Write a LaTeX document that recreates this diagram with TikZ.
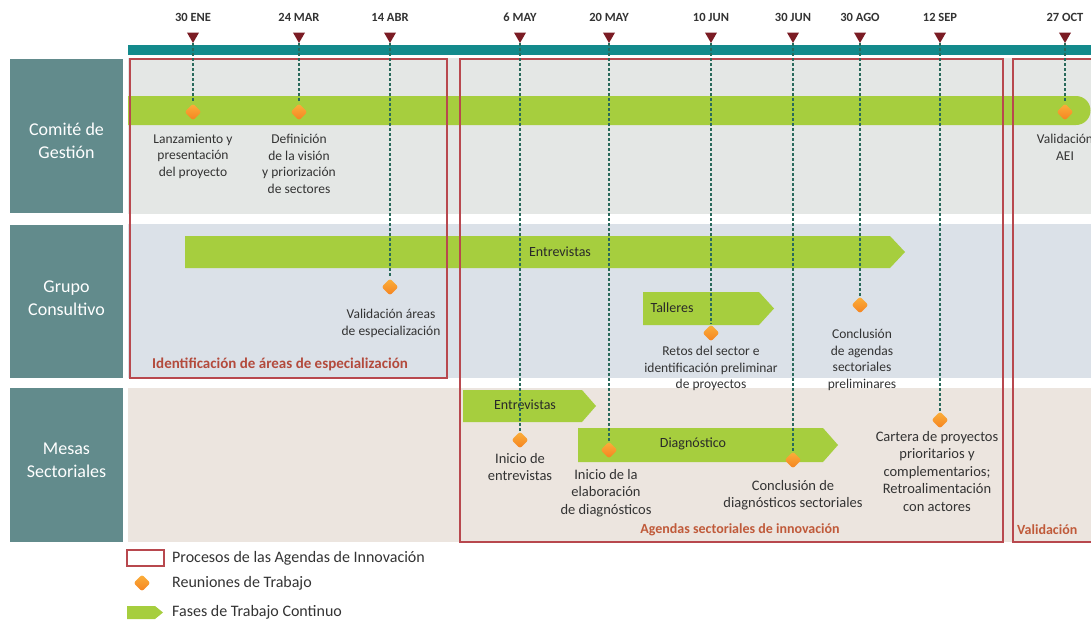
\documentclass[tikz,border=0pt]{standalone}
\usepackage{fontspec}
\setmainfont{Carlito}
\usetikzlibrary{shapes.geometric}
\definecolor{tealbar}{HTML}{138A8C}
\definecolor{markc}{HTML}{7B1C24}
\definecolor{rowc}{HTML}{628B8C}
\definecolor{bandA}{HTML}{E4E7E5}
\definecolor{bandB}{HTML}{DBE1E8}
\definecolor{bandC}{HTML}{ECE5DF}
\definecolor{procc}{HTML}{B8484E}
\definecolor{phasec}{HTML}{A6CE3E}
\definecolor{diaA}{HTML}{FBB03B}
\definecolor{diaB}{HTML}{F58220}
\definecolor{guidec}{HTML}{2A6A5C}
\definecolor{txt}{HTML}{333333}
\definecolor{proclbl}{HTML}{B34A3C}
\definecolor{proclblB}{HTML}{C05A3A}
\tikzset{
  lbl/.style={font=\fontsize{13.5}{16.5}\selectfont, text=txt, align=center, inner sep=0pt},
  lblb/.style={lbl, font=\fontsize{14.5}{17.5}\selectfont},
  datelbl/.style={font=\bfseries\fontsize{12.5}{13}\selectfont, text=txt, inner sep=0pt},
  tri/.style={regular polygon, regular polygon sides=3, shape border rotate=180, fill=markc, inner sep=0pt, minimum size=14pt},
  meet/.style={diamond, inner sep=0pt, minimum width=17pt, minimum height=17pt, rounded corners=2.5pt, top color=diaA, bottom color=diaB, draw=none},
  guide/.style={draw=guidec, dash pattern=on 3pt off 2pt, line width=1.2pt},
  rowbox/.style={fill=rowc, align=center, inner sep=0pt, minimum width=113pt},
  rowtxt/.style={text=white, align=center, inner sep=0pt, font=\fontsize{18}{23}\selectfont},
  phase/.style={fill=phasec},
  proc/.style={draw=procc, line width=1.1pt},
  phaselbl/.style={font=\fontsize{14}{15}\selectfont, text=txt!80!black, inner sep=0pt},
  proclabel/.style={font=\bfseries\fontsize{14}{15}\selectfont, inner sep=0pt},
  leglbl/.style={font=\fontsize{16}{17}\selectfont, text=txt, inner sep=0pt, anchor=west}
}
\begin{document}
\begin{tikzpicture}[x=1pt,y=-1pt]
\useasboundingbox (0,0) rectangle (1091,624);
% bands
\fill[bandA] (128,58) rectangle (1091,214);
\fill[bandB] (128,224) rectangle (1091,378);
\fill[bandC] (128,388) rectangle (1091,542);
% row label boxes
\node[rowbox, minimum height=154pt] (r1) at (66.5,136) {};
\node[rowbox, minimum height=153pt] (r2) at (66.5,301) {};
\node[rowbox, minimum height=154pt] (r3) at (66.5,465) {};
\node[rowtxt] (r1t) at (66.5,141) {Comité de\\Gestión};
\node[rowtxt] (r2t) at (66.5,298) {Grupo\\Consultivo};
\node[rowtxt] (r3t) at (66.5,460) {Mesas\\Sectoriales};
% timeline bar
\fill[tealbar] (128,45) rectangle (1091,55);
% phases
\fill[phase] (128,96) -- (1076,96) arc[start angle=-90,end angle=90,radius=14.5] -- (128,125) -- cycle;
\fill[phase] (185,236) -- (890,236) -- (905,252) -- (890,268) -- (185,268) -- cycle;
\fill[phase] (643,292) -- (759,292) -- (774,308.5) -- (759,325) -- (643,325) -- cycle;
\fill[phase] (463,390) -- (582,390) -- (596,406) -- (582,422) -- (463,422) -- cycle;
\fill[phase] (578,428) -- (823,428) -- (838,445) -- (823,462) -- (578,462) -- cycle;
\node[phaselbl] (p2) at (560,252) {Entrevistas};
\node[phaselbl] (p3) at (672,308) {Talleres};
\node[phaselbl] (p4) at (525,405) {Entrevistas};
\node[phaselbl] (p5) at (693,444) {Diagnóstico};
% process boxes
\draw[proc] (130,59) rectangle (447,378);
\draw[proc] (460,59) rectangle (1003,542);
\draw[proc] (1013,59) rectangle (1100,542);
\node[proclabel, text=proclbl, anchor=west, font=\bfseries\fontsize{15}{16}\selectfont] (pa) at (152,364) {Identificación de áreas de especialización};
\node[proclabel, text=proclblB] (pb) at (740,530) {Agendas sectoriales de innovación};
\node[proclabel, text=proclblB, anchor=west] (pc) at (1017,530) {Validación};
% markers and dates
\node[tri] (t1) at (193,36) {};
\node[tri] (t2) at (299,36) {};
\node[tri] (t3) at (390,36) {};
\node[tri] (t4) at (520,36) {};
\node[tri] (t5) at (609,36) {};
\node[tri] (t6) at (711,36) {};
\node[tri] (t7) at (793,36) {};
\node[tri] (t8) at (860,36) {};
\node[tri] (t9) at (940,36) {};
\node[tri] (t10) at (1065,36) {};
\node[datelbl] (dl1) at (193,17) {30 ENE};
\node[datelbl] (dl2) at (299,17) {24 MAR};
\node[datelbl] (dl3) at (390,17) {14 ABR};
\node[datelbl] (dl4) at (520,17) {6 MAY};
\node[datelbl] (dl5) at (609,17) {20 MAY};
\node[datelbl] (dl6) at (711,17) {10 JUN};
\node[datelbl] (dl7) at (793,17) {30 JUN};
\node[datelbl] (dl8) at (860,17) {30 AGO};
\node[datelbl] (dl9) at (940,17) {12 SEP};
\node[datelbl] (dl10) at (1065,17) {27 OCT};
% meetings
\node[meet] (d1) at (193,112) {};
\node[meet] (d2) at (299,112) {};
\node[meet] (d3) at (1065,112) {};
\node[meet] (d4) at (390,287) {};
\node[meet] (d5) at (711,333) {};
\node[meet] (d6) at (860,305) {};
\node[meet] (d7) at (520,440) {};
\node[meet] (d8) at (609,450) {};
\node[meet] (d9) at (793,460) {};
\node[meet] (d10) at (940,420) {};
% guides
\draw[guide] (t1) -- (d1);
\draw[guide] (t2) -- (d2);
\draw[guide] (t10) -- (d3);
\draw[guide] (t3) -- (d4);
\draw[guide] (t6) -- (d5);
\draw[guide] (t8) -- (d6);
\draw[guide] (t4) -- (d7);
\draw[guide] (t5) -- (d8);
\draw[guide] (t7) -- (d9);
\draw[guide] (t9) -- (d10);
% labels
\node[lbl, anchor=north] (l1) at (193,134) {Lanzamiento y\\presentación\\del proyecto};
\node[lbl, anchor=north] (l2) at (299,134) {Definición\\de la visión\\y priorización\\de sectores};
\node[lbl, anchor=north] (l3) at (1065,134) {Validación\\AEI};
\node[lbl, anchor=north] (l4) at (391,309) {Validación áreas\\de especialización};
\node[lbl, anchor=north] (l5) at (711,346) {Retos del sector e\\identificación preliminar\\de proyectos};
\node[lbl, anchor=north] (l6) at (862,329) {Conclusión\\de agendas\\sectoriales\\preliminares};
\node[lblb, anchor=north] (l7) at (520,453) {Inicio de\\entrevistas};
\node[lblb, anchor=north] (l8) at (606,469) {Inicio de la\\elaboración\\de diagnósticos};
\node[lblb, anchor=north] (l9) at (793,480) {Conclusión de\\diagnósticos sectoriales};
\node[lblb, anchor=north] (l10) at (937,431) {Cartera de proyectos\\prioritarios y\\complementarios;\\Retroalimentación\\con actores};
% legend
\draw[proc, fill=white] (127,550) rectangle (164,566);
\node[leglbl] (g1) at (172,558) {Procesos de las Agendas de Innovación};
\node[meet] (g2m) at (142,583) {};
\node[leglbl] (g2) at (172,583) {Reuniones de Trabajo};
\fill[phase] (127,606) -- (155,606) -- (163,612.5) -- (155,619) -- (127,619) -- cycle;
\node[leglbl] (g3) at (172,612) {Fases de Trabajo Continuo};
\end{tikzpicture}
\end{document}
